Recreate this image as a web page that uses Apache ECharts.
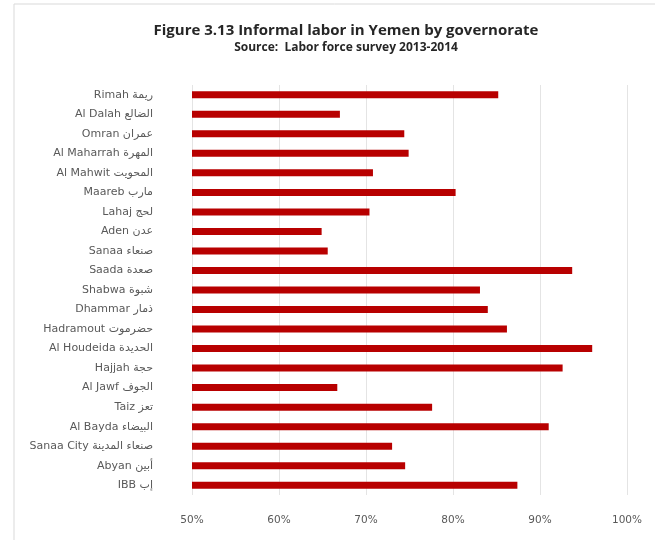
<!DOCTYPE html>
<html>
<head>
<meta charset="utf-8">
<script src="https://cdn.jsdelivr.net/npm/echarts@6/dist/echarts.min.js"></script>
<style>
  html, body { margin: 0; padding: 0; background: #ffffff; }
  #chart { width: 655px; height: 540px; }
</style>
</head>
<body>
<div id="chart"></div>
<script>
// Governorates, top to bottom
const governorates = [
  'Rimah ريمة', 'Al Dalah الضالع', 'Omran عمران', 'Al Maharrah المهرة',
  'Al Mahwit المحويت', 'Maareb مارب', 'Lahaj لحج', 'Aden عدن', 'Sanaa صنعاء',
  'Saada صعدة', 'Shabwa شبوة', 'Dhammar ذمار', 'Hadramout حضرموت',
  'Al Houdeida الحديدة', 'Hajjah حجة', 'Al Jawf الجوف', 'Taiz تعز',
  'Al Bayda البيضاء', 'Sanaa City صنعاء المدينة', 'Abyan أبين', 'IBB إب'
];

// Share of informal labor (%)
const informalShare = [
  85.2, 67.0, 74.4, 74.9,
  70.8, 80.3, 70.4, 64.9, 65.6,
  93.7, 83.1, 84.0, 86.2,
  96.0, 92.6, 66.7, 77.6,
  91.0, 73.0, 74.5, 87.4
];

// Value axis ticks (%)
const tickValues = [50, 60, 70, 80, 90, 100];

const chart = echarts.init(document.getElementById('chart'));
chart.setOption({
  backgroundColor: '#ffffff',
  animation: false,
  title: {
    text: 'Figure 3.13 Informal labor in Yemen by governorate',
    subtext: 'Source:  Labor force survey 2013-2014',
    left: 341,
    textAlign: 'center',
    top: 18,
    itemGap: 4,
    textStyle: { fontFamily: 'Open Sans', fontWeight: 'bold', fontSize: 15, color: '#262626' },
    subtextStyle: { fontFamily: 'Open Sans', fontWeight: 'bold', fontSize: 12, color: '#262626' }
  },
  graphic: [
    { type: 'line', shape: { x1: 14, y1: 4, x2: 655, y2: 4 }, style: { stroke: '#d9d9d9', lineWidth: 1 } },
    { type: 'line', shape: { x1: 14, y1: 4, x2: 14, y2: 540 }, style: { stroke: '#d9d9d9', lineWidth: 1 } }
  ],
  grid: { left: 192, right: 28, top: 85, bottom: 45 },
  xAxis: {
    type: 'value',
    min: tickValues[0],
    max: tickValues[tickValues.length - 1],
    interval: tickValues[1] - tickValues[0],
    axisLine: { show: false },
    axisTick: { show: false },
    splitLine: { show: true, lineStyle: { color: '#e4e4e4', width: 1 } },
    axisLabel: {
      formatter: v => v + '%',
      color: '#595959',
      fontFamily: 'DejaVu Sans',
      fontSize: 10.5,
      margin: 20
    }
  },
  yAxis: {
    type: 'category',
    data: governorates,
    inverse: true,
    axisLine: { show: false },
    axisTick: { show: false },
    axisLabel: {
      color: '#595959',
      fontFamily: 'DejaVu Sans',
      fontSize: 11,
      margin: 39
    }
  },
  series: [{
    type: 'bar',
    data: informalShare,
    barWidth: 7,
    itemStyle: { color: '#b80000' }
  }]
});
</script>
</body>
</html>
